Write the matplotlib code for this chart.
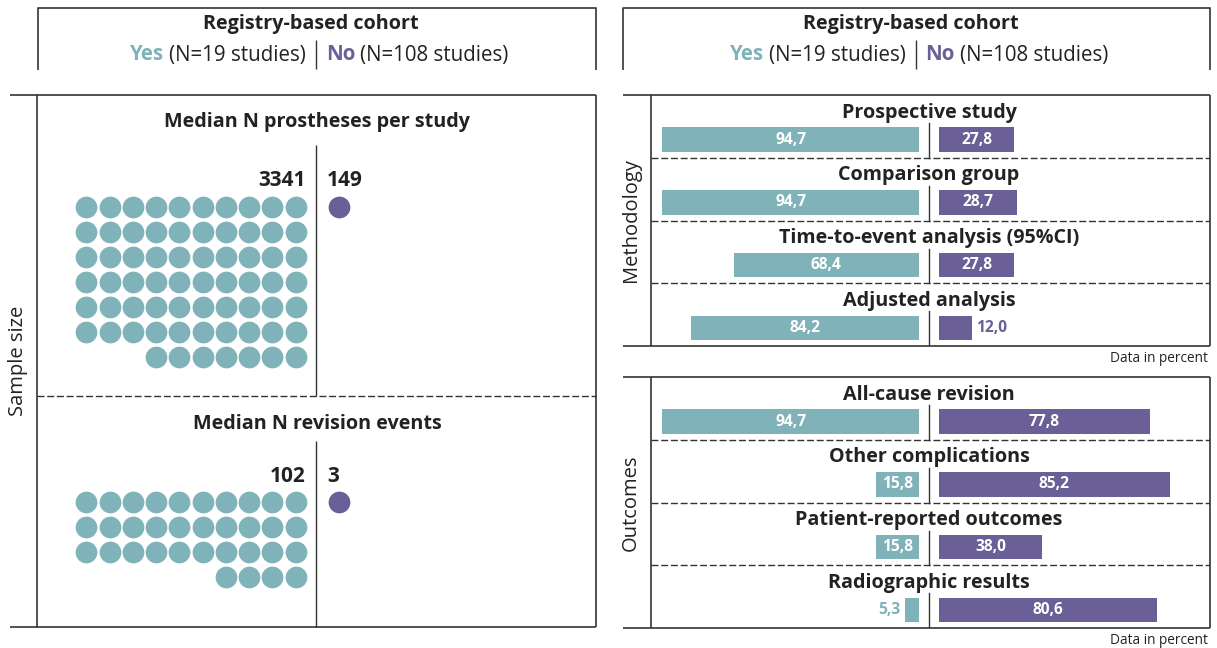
import matplotlib
matplotlib.use("Agg")
import matplotlib.pyplot as plt

# data
header_title = "Registry-based cohort"
yes_label, yes_n = "Yes", "(N=19 studies)"
no_label, no_n = "No", "(N=108 studies)"

dot_titles = ["Median N prostheses per study", "Median N revision events"]
dot_yes_values = ["3341", "102"]
dot_no_values = ["149", "3"]
dot_yes_counts = [67, 34]
dot_no_counts = [1, 1]

method_cats = ["Prospective study", "Comparison group",
               "Time-to-event analysis (95%CI)", "Adjusted analysis"]
method_yes = [94.7, 94.7, 68.4, 84.2]
method_no = [27.8, 28.7, 27.8, 12.0]

outcome_cats = ["All-cause revision", "Other complications",
                "Patient-reported outcomes", "Radiographic results"]
outcome_yes = [94.7, 15.8, 15.8, 5.3]
outcome_no = [77.8, 85.2, 38.0, 80.6]

TEAL = "#80b3b9"
PURPLE = "#6a5f96"
INK = "#222222"
LINE = "#333333"

plt.rcParams["font.family"] = ["Open Sans", "DejaVu Sans"]
FS = 14.2     # titles
FS_SUB = 14.8  # yes/no header line
FS_SIDE = 14.5
FS_VAL = 11.2
FS_NUM = 15

W, H = 1217, 648
fig = plt.figure(figsize=(W / 100, H / 100), dpi=100)
ax = fig.add_axes([0, 0, 1, 1])
ax.set_xlim(0, W)
ax.set_ylim(H, 0)
ax.axis("off")


def fmt(v):
    return f"{v:.1f}".replace(".", ",")


def line(xs, ys, **kw):
    kw.setdefault("color", LINE)
    kw.setdefault("lw", 1.2)
    ax.plot(xs, ys, solid_capstyle="butt", **kw)


# headers
for x0, x1 in [(38, 596), (623, 1210)]:
    cx = (x0 + x1) / 2 - 1
    line([x0, x0, x1, x1], [70, 8, 8, 70])
    ax.text(cx - 5, 24, header_title, ha="center", va="center",
            fontsize=FS, fontweight="bold", color=INK)
    line([cx, cx], [40, 69], lw=1)
    t = ax.text(cx - 10, 55, yes_n, ha="right", va="center", fontsize=FS_SUB, color=INK)
    fig.canvas.draw()
    bb = t.get_window_extent()
    ax.text(bb.x0 - 5, 55, yes_label, ha="right", va="center", fontsize=FS_SUB,
            fontweight="bold", color=TEAL)
    t2 = ax.text(cx + 10, 55, no_label, ha="left", va="center", fontsize=FS_SUB,
                 fontweight="bold", color=PURPLE)
    fig.canvas.draw()
    bb2 = t2.get_window_extent()
    ax.text(bb2.x1 + 5, 55, no_n, ha="left", va="center", fontsize=FS_SUB, color=INK)

# left panel frame
line([10, 596], [95, 95])
line([10, 596], [627, 627])
line([37, 37], [95, 627])
line([596, 596], [95, 627])
line([37, 596], [396, 396], ls=(0, (5, 2)), lw=1)
ax.text(18, 361, "Sample size", rotation=90, ha="center", va="center",
        fontsize=FS_SIDE, color=INK)

# dot panels
panel_tops = [95, 396]
title_dy = [27, 28]
vline = [(145, 396), (441, 627)]
dot_top = [207, 502]
dx, dy = 23.25, 25
x_right = 295.5
cx = 316
for i in range(2):
    top = panel_tops[i]
    ax.text(cx + 1, top + title_dy[i], dot_titles[i], ha="center", va="center",
            fontsize=FS, fontweight="bold", color=INK)
    line([cx, cx], list(vline[i]), lw=1)
    ax.text(x_right + 10, dot_top[i] - 26, dot_yes_values[i], ha="right",
            va="center", fontsize=FS_NUM, fontweight="bold", color=INK)
    ax.text(327, dot_top[i] - 26, dot_no_values[i], ha="left",
            va="center", fontsize=FS_NUM, fontweight="bold", color=INK)
    n = dot_yes_counts[i]
    xs, ys = [], []
    for k in range(n):
        r, c = divmod(k, 10)
        xs.append(x_right - c * dx)
        ys.append(dot_top[i] + r * dy)
    # rows fill from the right, so the last row is right-aligned
    ax.scatter(xs, ys, s=245, color=TEAL, linewidths=0)
    ax.scatter([339 + c * dx for c in range(dot_no_counts[i])],
               [dot_top[i]] * dot_no_counts[i], s=245, color=PURPLE, linewidths=0)


# bar panels
def bar_panel(top, bottom, cats, yes, no, side_label):
    x0, x1, mid = 651, 1210, 929
    line([623, x1], [top, top])
    line([623, x1], [bottom, bottom])
    line([x0, x0], [top, bottom])
    line([x1, x1], [top, bottom])
    ax.text(631, (top + bottom) / 2, side_label, rotation=90, ha="center",
            va="center", fontsize=FS_SIDE, color=INK)
    ax.text(1208, bottom + 12, "Data in percent", ha="right", va="center",
            fontsize=9.8, color=INK)

    px = 2.71  # pixels per percent
    bax = fig.add_axes([x0 / W, 1 - bottom / H, (x1 - x0) / W, (bottom - top) / H])
    bax.set_xlim((x0 - mid) / px, (x1 - mid) / px)
    bax.set_ylim(4, 0)
    bax.axis("off")
    gap = 10 / px
    rows = range(len(cats))
    yb = [r + 0.71 for r in rows]
    bax.barh(yb, [-v for v in yes], left=-gap, height=0.39, color=TEAL)
    bax.barh(yb, no, left=gap, height=0.39, color=PURPLE)
    for r in rows:
        bax.text(0, r + 0.28, cats[r], ha="center", va="center",
                 fontsize=FS, fontweight="bold", color=INK)
        bax.plot([0, 0], [r + 0.45, r + 1], color=LINE, lw=1)
        if r > 0:
            bax.plot(bax.get_xlim(), [r, r], color=LINE, lw=1, ls=(0, (5, 2)))
        y = yb[r]
        if yes[r] >= 10:
            bax.text(-gap - yes[r] / 2, y, fmt(yes[r]), ha="center", va="center",
                     fontsize=FS_VAL, fontweight="bold", color="white")
        else:
            bax.text(-gap - yes[r] - 1.5, y, fmt(yes[r]), ha="right", va="center",
                     fontsize=FS_VAL, fontweight="bold", color=TEAL)
        if no[r] >= 15:
            bax.text(gap + no[r] / 2, y, fmt(no[r]), ha="center", va="center",
                     fontsize=FS_VAL, fontweight="bold", color="white")
        else:
            bax.text(gap + no[r] + 1.5, y, fmt(no[r]), ha="left", va="center",
                     fontsize=FS_VAL, fontweight="bold", color=PURPLE)


bar_panel(95, 346, method_cats, method_yes, method_no, "Methodology")
bar_panel(377, 628, outcome_cats, outcome_yes, outcome_no, "Outcomes")

fig.savefig("out.png", dpi=100)
